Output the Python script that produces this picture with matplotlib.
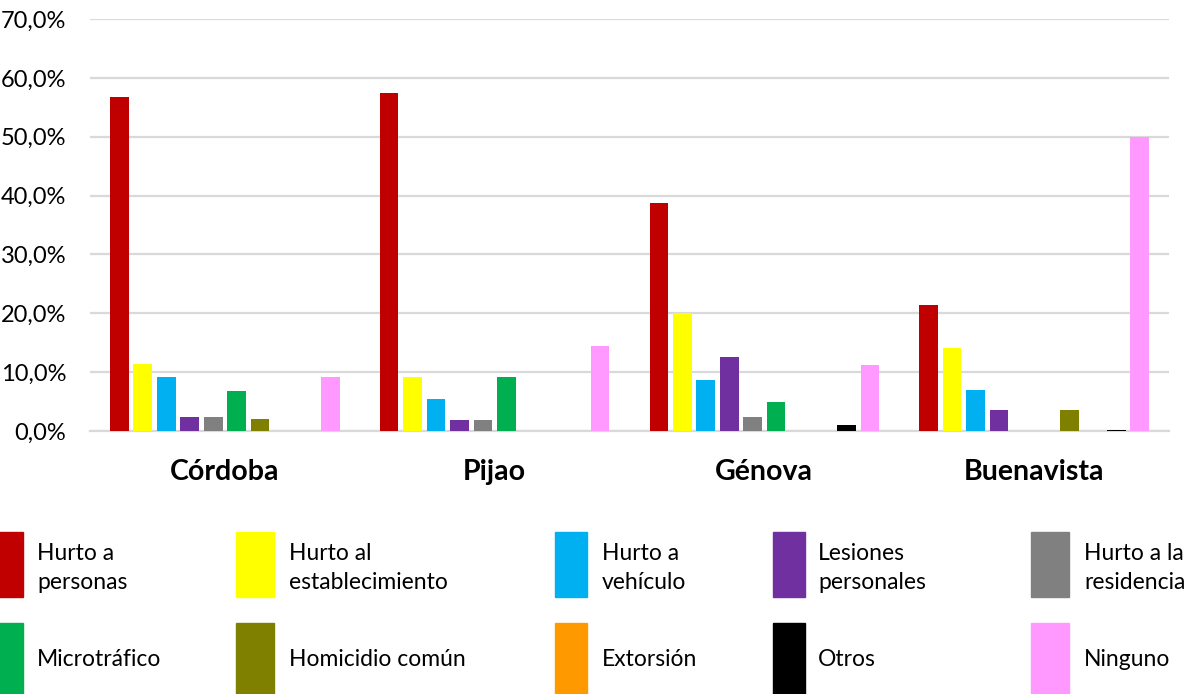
import matplotlib
matplotlib.use("Agg")
import matplotlib.pyplot as plt
from matplotlib.patches import Rectangle
import numpy as np

plt.rcParams['font.family'] = ['Lato', 'DejaVu Sans']

municipios = ["Córdoba", "Pijao", "Génova", "Buenavista"]
delitos = ["Hurto a\npersonas", "Hurto al\nestablecimiento", "Hurto a\nvehículo",
           "Lesiones\npersonales", "Hurto a la\nresidencia", "Microtráfico",
           "Homicidio común", "Extorsión", "Otros", "Ninguno"]
colores = ["#C00000", "#FFFF00", "#00B0F0", "#7030A0", "#808080",
           "#00B050", "#808000", "#FF9900", "#000000", "#FF99FF"]

hurto_personas = [56.8, 57.4, 38.7, 21.4]
hurto_establecimiento = [11.4, 9.2, 20.0, 14.1]
hurto_vehiculo = [9.1, 5.5, 8.7, 7.0]
lesiones = [2.3, 1.8, 12.5, 3.5]
hurto_residencia = [2.3, 1.8, 2.4, 0.0]
microtrafico = [6.8, 9.2, 4.9, 0.0]
homicidio = [2.1, 0.0, 0.0, 3.5]
extorsion = [0.0, 0.0, 0.0, 0.0]
otros = [0.0, 0.0, 1.1, 0.2]
ninguno = [9.1, 14.5, 11.2, 50.0]

series = [hurto_personas, hurto_establecimiento, hurto_vehiculo, lesiones,
          hurto_residencia, microtrafico, homicidio, extorsion, otros, ninguno]

yticks = [0, 10, 20, 30, 40, 50, 60, 70]
ytick_labels = ["0,0%", "10,0%", "20,0%", "30,0%", "40,0%", "50,0%", "60,0%", "70,0%"]

W, H = 1202, 694
fig = plt.figure(figsize=(W / 100, H / 100), dpi=100)
ax = fig.add_axes([90 / W, (H - 431) / H, (1169 - 90) / W, (431 - 19) / H])

x = np.arange(len(municipios))
slot = 0.0869
bw = 0.0693
n = len(series)
for i, (vals, c) in enumerate(zip(series, colores)):
    ax.bar(x + (i - (n - 1) / 2) * slot, vals, width=bw, color=c, zorder=3)

ax.set_xlim(-0.5, len(municipios) - 0.5)
ax.set_ylim(0, 70)
ax.set_yticks(yticks)
ax.set_yticklabels(ytick_labels, fontsize=17, color="#000000")
ax.set_xticks(x)
ax.set_xticklabels(municipios, fontsize=20.5, fontweight="bold")
ax.tick_params(axis="y", length=0, pad=17)
ax.tick_params(axis="x", length=0, pad=20)
ax.yaxis.grid(True, color="#d9d9d9", linewidth=1.6, zorder=0)
ax.set_axisbelow(True)
for s in ["top", "right", "left"]:
    ax.spines[s].set_visible(False)
ax.spines["bottom"].set_color("#d9d9d9")
ax.spines["bottom"].set_linewidth(1.6)

# legend (manual, 2 rows x 5 columns)
patch_x = [-15, 236, 555, 773, 1031]
patch_w = [38, 38, 32, 32, 38]
text_x = [37, 289, 602, 818, 1084]
row_top = [532, 623]
row_h = [65, 75]
for k, (lab, c) in enumerate(zip(delitos, colores)):
    r, col = divmod(k, 5)
    x0 = patch_x[col]
    y0 = row_top[r] + row_h[r]
    fig.add_artist(Rectangle((x0 / W, 1 - y0 / H), patch_w[col] / W, row_h[r] / H,
                             transform=fig.transFigure, color=c, clip_on=False))
    yc = row_top[r] + 36
    fig.text(text_x[col] / W, 1 - yc / H, lab, fontsize=16.5, va="center", ha="left",
             linespacing=1.45, color="#000000")

fig.savefig("out.png", dpi=100, facecolor="white")
